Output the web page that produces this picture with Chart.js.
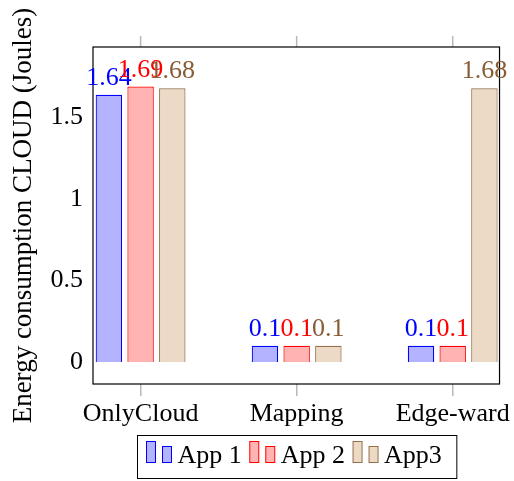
<!DOCTYPE html>
<html><head><meta charset="utf-8">
<script src="https://cdn.jsdelivr.net/npm/chart.js@4"></script>
<style>html,body{margin:0;padding:0;background:#fff}#wrap{width:514px;height:481px}</style>
</head><body><div id="wrap"><canvas id="c" width="514" height="481"></canvas></div>
<script>
const categories = ['OnlyCloud', 'Mapping', 'Edge-ward'];
const app1 = [1.64, 0.1, 0.1];
const app2 = [1.69, 0.1, 0.1];
const app3 = [1.68, 0.1, 1.68];
const seriesNames = ['App 1', 'App 2', 'App3'];
const yTicks = [0, 0.5, 1, 1.5];
const yTitle = 'Energy consumption CLOUD (Joules)';

const FONT_FAMILY = '"Liberation Serif", "Times New Roman", serif';
const FONT_SIZE = 26;
const TITLE_SIZE = 27;

const styles = [
  { bg: 'rgb(179,179,255)', border: 'rgb(0,0,255)', text: 'rgb(0,0,255)' },
  { bg: 'rgb(255,179,179)', border: 'rgb(255,0,0)', text: 'rgb(255,0,0)' },
  { bg: 'rgb(236,217,198)', border: 'rgb(150,110,72)', text: 'rgb(135,92,52)' }
];

const seriesValues = [app1, app2, app3];
const datasets = seriesValues.map((vals, i) => ({
  label: seriesNames[i],
  data: vals.map((v, j) => ({ x: j, y: v })),
  backgroundColor: styles[i].bg,
  borderColor: styles[i].border,
  labelColor: styles[i].text,
  borderWidth: 1.2,
  categoryPercentage: 0.6095,
  barPercentage: 0.834
}));

const decorPlugin = {
  id: 'decor',
  afterDraw(chart) {
    const ctx = chart.ctx;
    const a = chart.chartArea;
    const xs = chart.scales.x;
    ctx.save();
    // top tick marks
    ctx.strokeStyle = '#b8b8b8';
    ctx.lineWidth = 1.5;
    xs.ticks.forEach(t => {
      const px = xs.getPixelForValue(t.value);
      ctx.beginPath();
      ctx.moveTo(px, a.top - 11);
      ctx.lineTo(px, a.top);
      ctx.stroke();
    });
    // box
    ctx.strokeStyle = '#000';
    ctx.lineWidth = 1.2;
    ctx.strokeRect(a.left, a.top, a.right - a.left, a.bottom - a.top);
    // value labels
    ctx.font = FONT_SIZE + 'px ' + FONT_FAMILY;
    ctx.textAlign = 'center';
    ctx.textBaseline = 'alphabetic';
    chart.data.datasets.forEach((ds, i) => {
      const meta = chart.getDatasetMeta(i);
      ctx.fillStyle = ds.labelColor;
      meta.data.forEach((el, j) => {
        ctx.fillText(String(ds.data[j].y), el.x, el.y - 10);
      });
    });
    // y title
    ctx.save();
    ctx.font = TITLE_SIZE + 'px ' + FONT_FAMILY;
    ctx.fillStyle = '#000';
    ctx.translate(24, (a.top + a.bottom) / 2);
    ctx.rotate(-Math.PI / 2);
    ctx.textAlign = 'center';
    ctx.textBaseline = 'middle';
    ctx.fillText(yTitle, 0, 0);
    ctx.restore();
    // legend
    ctx.font = FONT_SIZE + 'px ' + FONT_FAMILY;
    ctx.textAlign = 'left';
    ctx.textBaseline = 'alphabetic';
    const iconW = 25, gapIT = 6, gapE = 8, padL = 9, padR = 15;
    const ents = chart.data.datasets.map(ds => ({ ds, w: ctx.measureText(ds.label).width }));
    let total = 0;
    ents.forEach((e, i) => { total += iconW + gapIT + e.w + (i > 0 ? gapE : 0); });
    const boxW = total + padL + padR;
    const boxH = 43;
    const cx = (a.left + a.right) / 2;
    const boxL = Math.round(cx - boxW / 2) + 0.5;
    const boxT = a.bottom + 51.5;
    ctx.fillStyle = '#fff';
    ctx.fillRect(boxL, boxT, boxW, boxH);
    ctx.strokeStyle = '#000';
    ctx.lineWidth = 1;
    ctx.strokeRect(boxL, boxT, boxW, boxH);
    let x = boxL + padL;
    const iconBottom = boxT + 27;
    ents.forEach((e, i) => {
      if (i > 0) x += gapE;
      ctx.fillStyle = e.ds.backgroundColor;
      ctx.strokeStyle = e.ds.borderColor;
      ctx.lineWidth = 1;
      ctx.fillRect(x, iconBottom - 21, 9, 21);
      ctx.strokeRect(x, iconBottom - 21, 9, 21);
      ctx.fillRect(x + 16, iconBottom - 16, 9, 16);
      ctx.strokeRect(x + 16, iconBottom - 16, 9, 16);
      x += iconW + gapIT;
      ctx.fillStyle = '#000';
      ctx.fillText(e.ds.label, x, boxT + 27.5);
      x += e.w;
    });
    ctx.restore();
  }
};

new Chart(document.getElementById('c'), {
  type: 'bar',
  data: { datasets },
  options: {
    responsive: false,
    animation: false,
    devicePixelRatio: 1,
    layout: { padding: { left: 0, top: 47, right: 11, bottom: 47 } },
    plugins: { legend: { display: false }, tooltip: { enabled: false } },
    scales: {
      x: {
        type: 'linear',
        offset: false,
        min: -0.305,
        max: 2.3,
        afterBuildTicks: s => { s.ticks = categories.map((c, i) => ({ value: i })); },
        afterFit: s => { s.height = 50; },
        grid: { offset: false, drawOnChartArea: false, drawTicks: true, tickLength: 12, color: '#b8b8b8', lineWidth: 1.5 },
        border: { display: false },
        ticks: {
          autoSkip: false,
          maxRotation: 0,
          padding: 3,
          color: '#000',
          font: { family: FONT_FAMILY, size: FONT_SIZE },
          callback: v => categories[v] ?? ''
        }
      },
      y: {
        min: -0.135,
        max: 1.933,
        afterBuildTicks: s => { s.ticks = yTicks.map(v => ({ value: v })); },
        afterFit: s => { s.width = 93; },
        grid: { display: false, drawTicks: false },
        border: { display: false },
        ticks: {
          padding: 10,
          color: '#000',
          font: { family: FONT_FAMILY, size: FONT_SIZE },
          callback: v => String(v)
        }
      }
    }
  },
  plugins: [decorPlugin]
});
</script>
</body></html>
